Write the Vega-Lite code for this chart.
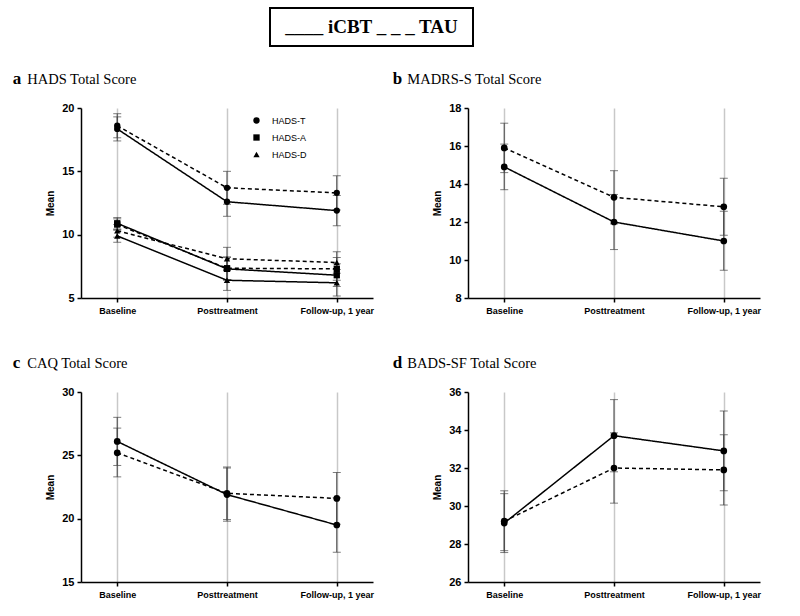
{
  "$schema": "https://vega.github.io/schema/vega-lite/v6.json",
  "background": "white",
  "padding": {"left": 12, "top": 7, "right": 5, "bottom": 5},
  "config": {
    "view": {"stroke": null},
    "font": "Liberation Sans",
    "title": {"font": "Liberation Serif", "fontSize": 17, "fontWeight": "bold", "color": "black", "subtitleFont": "Liberation Serif", "subtitleFontSize": 14.5, "subtitleColor": "black", "subtitleFontWeight": "normal", "subtitlePadding": -15, "anchor": "start", "offset": 14, "dx": -33},
    "axis": {"domainColor": "black", "domainWidth": 1.5, "tickColor": "black", "tickWidth": 1.5, "tickSize": 4, "labelFont": "Liberation Sans", "labelFontWeight": "bold", "labelColor": "black", "titleFont": "Liberation Sans", "titleFontWeight": "bold", "titleColor": "black", "labelOverlap": false},
    "axisY": {"labelFontSize": 11, "labelPadding": 3, "titleFontSize": 10, "titlePadding": 6, "grid": false},
    "axisX": {"labelFontSize": 9, "labelPadding": 4, "grid": true, "gridColor": "#c8c8c8", "gridWidth": 1.5, "labelAngle": 0, "title": null},
    "legend": {"labelFont": "Liberation Sans", "labelFontSize": 9, "labelColor": "black", "padding": 0, "rowPadding": 4, "labelOffset": 11}
  },
  "datasets": {
    "hads": [
      {"time": "Baseline", "arm": "iCBT", "group": "HADS-T", "mean": 18.35, "lo": 17.4, "hi": 19.3},
      {"time": "Posttreatment", "arm": "iCBT", "group": "HADS-T", "mean": 12.6, "lo": 11.45, "hi": 13.75},
      {"time": "Follow-up, 1 year", "arm": "iCBT", "group": "HADS-T", "mean": 11.9, "lo": 10.7, "hi": 13.1},
      {"time": "Baseline", "arm": "TAU", "group": "HADS-T", "mean": 18.6, "lo": 17.65, "hi": 19.55},
      {"time": "Posttreatment", "arm": "TAU", "group": "HADS-T", "mean": 13.7, "lo": 12.4, "hi": 15.0},
      {"time": "Follow-up, 1 year", "arm": "TAU", "group": "HADS-T", "mean": 13.3, "lo": 11.95, "hi": 14.65},
      {"time": "Baseline", "arm": "iCBT", "group": "HADS-A", "mean": 10.9, "lo": 10.45, "hi": 11.35},
      {"time": "Posttreatment", "arm": "iCBT", "group": "HADS-A", "mean": 7.3, "lo": 6.4, "hi": 8.2},
      {"time": "Follow-up, 1 year", "arm": "iCBT", "group": "HADS-A", "mean": 6.8, "lo": 5.9, "hi": 7.7},
      {"time": "Baseline", "arm": "TAU", "group": "HADS-A", "mean": 10.8, "lo": 10.35, "hi": 11.25},
      {"time": "Posttreatment", "arm": "TAU", "group": "HADS-A", "mean": 7.35, "lo": 6.45, "hi": 8.25},
      {"time": "Follow-up, 1 year", "arm": "TAU", "group": "HADS-A", "mean": 7.3, "lo": 6.4, "hi": 8.2},
      {"time": "Baseline", "arm": "iCBT", "group": "HADS-D", "mean": 9.9, "lo": 9.4, "hi": 10.4},
      {"time": "Posttreatment", "arm": "iCBT", "group": "HADS-D", "mean": 6.4, "lo": 5.6, "hi": 7.2},
      {"time": "Follow-up, 1 year", "arm": "iCBT", "group": "HADS-D", "mean": 6.2, "lo": 5.15, "hi": 7.25},
      {"time": "Baseline", "arm": "TAU", "group": "HADS-D", "mean": 10.3, "lo": 9.8, "hi": 10.8},
      {"time": "Posttreatment", "arm": "TAU", "group": "HADS-D", "mean": 8.1, "lo": 7.2, "hi": 9.0},
      {"time": "Follow-up, 1 year", "arm": "TAU", "group": "HADS-D", "mean": 7.8, "lo": 6.95, "hi": 8.65}
    ],
    "madrs": [
      {"time": "Baseline", "arm": "iCBT", "mean": 14.9, "lo": 13.7, "hi": 16.1},
      {"time": "Posttreatment", "arm": "iCBT", "mean": 12.0, "lo": 10.55, "hi": 13.45},
      {"time": "Follow-up, 1 year", "arm": "iCBT", "mean": 11.0, "lo": 9.46, "hi": 12.56},
      {"time": "Baseline", "arm": "TAU", "mean": 15.9, "lo": 14.6, "hi": 17.2},
      {"time": "Posttreatment", "arm": "TAU", "mean": 13.3, "lo": 11.9, "hi": 14.7},
      {"time": "Follow-up, 1 year", "arm": "TAU", "mean": 12.8, "lo": 11.3, "hi": 14.3}
    ],
    "caq": [
      {"time": "Baseline", "arm": "iCBT", "mean": 26.1, "lo": 24.2, "hi": 28.0},
      {"time": "Posttreatment", "arm": "iCBT", "mean": 21.9, "lo": 19.8, "hi": 24.0},
      {"time": "Follow-up, 1 year", "arm": "iCBT", "mean": 19.5, "lo": 17.35, "hi": 21.65},
      {"time": "Baseline", "arm": "TAU", "mean": 25.2, "lo": 23.3, "hi": 27.15},
      {"time": "Posttreatment", "arm": "TAU", "mean": 22.0, "lo": 19.93, "hi": 24.08},
      {"time": "Follow-up, 1 year", "arm": "TAU", "mean": 21.6, "lo": 19.55, "hi": 23.65}
    ],
    "bads": [
      {"time": "Baseline", "arm": "iCBT", "mean": 29.1, "lo": 27.55, "hi": 30.65},
      {"time": "Posttreatment", "arm": "iCBT", "mean": 33.7, "lo": 31.8, "hi": 35.6},
      {"time": "Follow-up, 1 year", "arm": "iCBT", "mean": 32.9, "lo": 30.8, "hi": 35.0},
      {"time": "Baseline", "arm": "TAU", "mean": 29.2, "lo": 27.65, "hi": 30.8},
      {"time": "Posttreatment", "arm": "TAU", "mean": 32.0, "lo": 30.15, "hi": 33.85},
      {"time": "Follow-up, 1 year", "arm": "TAU", "mean": 31.9, "lo": 30.05, "hi": 33.75}
    ]
  },
  "spacing": 23,
  "vconcat": [
    {
      "spacing": 0,
      "hconcat": [
        {"width": 188, "height": 38, "data": {"values": [{"t": ""}]}, "mark": {"type": "text"}, "encoding": {"text": {"field": "t"}}},
        {"width": 203, "height": 38, "view": {"stroke": "black", "strokeWidth": 2}, "data": {"values": [{"label": "____ iCBT _ _ _ TAU"}]}, "mark": {"type": "text", "font": "Liberation Serif", "fontWeight": "bold", "fontSize": 19, "color": "black"}, "encoding": {"text": {"field": "label"}}}
      ]
    },
    {
      "spacing": 39,
      "vconcat": [
        {
          "spacing": 18,
          "hconcat": [
            {
              "width": 292, "height": 190,
              "title": {"text": "a", "subtitle": "\u200b\u00a0\u00a0\u00a0\u00a0HADS Total Score"},
              "data": {"name": "hads"},
              "encoding": {"x": {"field": "time", "type": "nominal", "sort": ["Baseline", "Posttreatment", "Follow-up, 1 year"], "scale": {"type": "point", "padding": 0.33}, "axis": {"title": null}}},
              "layer": [
                {"mark": {"type": "rule", "color": "#444", "strokeWidth": 1}, "encoding": {"y": {"field": "lo", "type": "quantitative", "title": "Mean", "scale": {"domain": [5, 20], "nice": false, "zero": false}, "axis": {"values": [5, 10, 15, 20]}}, "y2": {"field": "hi"}, "detail": {"field": "arm"}}},
                {"mark": {"type": "tick", "orient": "horizontal", "size": 8, "thickness": 1, "color": "#444"}, "encoding": {"y": {"field": "lo", "type": "quantitative", "title": "Mean", "scale": {"domain": [5, 20], "nice": false, "zero": false}, "axis": {"values": [5, 10, 15, 20]}}}},
                {"mark": {"type": "tick", "orient": "horizontal", "size": 8, "thickness": 1, "color": "#444"}, "encoding": {"y": {"field": "hi", "type": "quantitative", "title": "Mean", "scale": {"domain": [5, 20], "nice": false, "zero": false}, "axis": {"values": [5, 10, 15, 20]}}}},
                {"mark": {"type": "line", "color": "black", "strokeWidth": 1.5}, "encoding": {"y": {"field": "mean", "type": "quantitative", "title": "Mean", "scale": {"domain": [5, 20], "nice": false, "zero": false}, "axis": {"values": [5, 10, 15, 20]}}, "detail": {"field": "group"}, "strokeDash": {"field": "arm", "type": "nominal", "scale": {"domain": ["iCBT", "TAU"], "range": [[1, 0], [4, 3]]}, "legend": null}}},
                {"mark": {"type": "point", "filled": true, "color": "black", "size": 40, "opacity": 1}, "encoding": {"y": {"field": "mean", "type": "quantitative", "title": "Mean", "scale": {"domain": [5, 20], "nice": false, "zero": false}, "axis": {"values": [5, 10, 15, 20]}}, "shape": {"field": "group", "type": "nominal", "scale": {"domain": ["HADS-T", "HADS-A", "HADS-D"], "range": ["circle", "square", "triangle-up"]}, "legend": {"title": null, "orient": "none", "legendX": 171, "legendY": 108, "symbolSize": 40, "symbolFillColor": "black", "symbolStrokeColor": "black"}}}}
              ]
            },
            {
              "width": 292, "height": 190,
              "title": {"text": "b", "subtitle": "\u200b\u00a0\u00a0\u00a0\u00a0MADRS-S Total Score", "dx": -40},
              "data": {"name": "madrs"},
              "encoding": {"x": {"field": "time", "type": "nominal", "sort": ["Baseline", "Posttreatment", "Follow-up, 1 year"], "scale": {"type": "point", "padding": 0.33}, "axis": {"title": null}}},
              "layer": [
                {"mark": {"type": "rule", "color": "#444", "strokeWidth": 1}, "encoding": {"y": {"field": "lo", "type": "quantitative", "title": "Mean", "scale": {"domain": [8, 18], "nice": false, "zero": false}, "axis": {"values": [8, 10, 12, 14, 16, 18]}}, "y2": {"field": "hi"}, "detail": {"field": "arm"}}},
                {"mark": {"type": "tick", "orient": "horizontal", "size": 8, "thickness": 1, "color": "#444"}, "encoding": {"y": {"field": "lo", "type": "quantitative", "title": "Mean", "scale": {"domain": [8, 18], "nice": false, "zero": false}, "axis": {"values": [8, 10, 12, 14, 16, 18]}}}},
                {"mark": {"type": "tick", "orient": "horizontal", "size": 8, "thickness": 1, "color": "#444"}, "encoding": {"y": {"field": "hi", "type": "quantitative", "title": "Mean", "scale": {"domain": [8, 18], "nice": false, "zero": false}, "axis": {"values": [8, 10, 12, 14, 16, 18]}}}},
                {"mark": {"type": "line", "color": "black", "strokeWidth": 1.5}, "encoding": {"y": {"field": "mean", "type": "quantitative", "title": "Mean", "scale": {"domain": [8, 18], "nice": false, "zero": false}, "axis": {"values": [8, 10, 12, 14, 16, 18]}}, "strokeDash": {"field": "arm", "type": "nominal", "scale": {"domain": ["iCBT", "TAU"], "range": [[1, 0], [4, 3]]}, "legend": null}}},
                {"mark": {"type": "point", "filled": true, "color": "black", "size": 45, "opacity": 1}, "encoding": {"y": {"field": "mean", "type": "quantitative", "title": "Mean", "scale": {"domain": [8, 18], "nice": false, "zero": false}, "axis": {"values": [8, 10, 12, 14, 16, 18]}}}}
              ]
            }
          ]
        },
        {
          "spacing": 18,
          "hconcat": [
            {
              "width": 292, "height": 190,
              "title": {"text": "c", "subtitle": "\u200b\u00a0\u00a0\u00a0\u00a0CAQ Total Score"},
              "data": {"name": "caq"},
              "encoding": {"x": {"field": "time", "type": "nominal", "sort": ["Baseline", "Posttreatment", "Follow-up, 1 year"], "scale": {"type": "point", "padding": 0.33}, "axis": {"title": null}}},
              "layer": [
                {"mark": {"type": "rule", "color": "#444", "strokeWidth": 1}, "encoding": {"y": {"field": "lo", "type": "quantitative", "title": "Mean", "scale": {"domain": [15, 30], "nice": false, "zero": false}, "axis": {"values": [15, 20, 25, 30]}}, "y2": {"field": "hi"}, "detail": {"field": "arm"}}},
                {"mark": {"type": "tick", "orient": "horizontal", "size": 8, "thickness": 1, "color": "#444"}, "encoding": {"y": {"field": "lo", "type": "quantitative", "title": "Mean", "scale": {"domain": [15, 30], "nice": false, "zero": false}, "axis": {"values": [15, 20, 25, 30]}}}},
                {"mark": {"type": "tick", "orient": "horizontal", "size": 8, "thickness": 1, "color": "#444"}, "encoding": {"y": {"field": "hi", "type": "quantitative", "title": "Mean", "scale": {"domain": [15, 30], "nice": false, "zero": false}, "axis": {"values": [15, 20, 25, 30]}}}},
                {"mark": {"type": "line", "color": "black", "strokeWidth": 1.5}, "encoding": {"y": {"field": "mean", "type": "quantitative", "title": "Mean", "scale": {"domain": [15, 30], "nice": false, "zero": false}, "axis": {"values": [15, 20, 25, 30]}}, "strokeDash": {"field": "arm", "type": "nominal", "scale": {"domain": ["iCBT", "TAU"], "range": [[1, 0], [4, 3]]}, "legend": null}}},
                {"mark": {"type": "point", "filled": true, "color": "black", "size": 45, "opacity": 1}, "encoding": {"y": {"field": "mean", "type": "quantitative", "title": "Mean", "scale": {"domain": [15, 30], "nice": false, "zero": false}, "axis": {"values": [15, 20, 25, 30]}}}}
              ]
            },
            {
              "width": 292, "height": 190,
              "title": {"text": "d", "subtitle": "\u200b\u00a0\u00a0\u00a0\u00a0BADS-SF Total Score", "dx": -40},
              "data": {"name": "bads"},
              "encoding": {"x": {"field": "time", "type": "nominal", "sort": ["Baseline", "Posttreatment", "Follow-up, 1 year"], "scale": {"type": "point", "padding": 0.33}, "axis": {"title": null}}},
              "layer": [
                {"mark": {"type": "rule", "color": "#444", "strokeWidth": 1}, "encoding": {"y": {"field": "lo", "type": "quantitative", "title": "Mean", "scale": {"domain": [26, 36], "nice": false, "zero": false}, "axis": {"values": [26, 28, 30, 32, 34, 36]}}, "y2": {"field": "hi"}, "detail": {"field": "arm"}}},
                {"mark": {"type": "tick", "orient": "horizontal", "size": 8, "thickness": 1, "color": "#444"}, "encoding": {"y": {"field": "lo", "type": "quantitative", "title": "Mean", "scale": {"domain": [26, 36], "nice": false, "zero": false}, "axis": {"values": [26, 28, 30, 32, 34, 36]}}}},
                {"mark": {"type": "tick", "orient": "horizontal", "size": 8, "thickness": 1, "color": "#444"}, "encoding": {"y": {"field": "hi", "type": "quantitative", "title": "Mean", "scale": {"domain": [26, 36], "nice": false, "zero": false}, "axis": {"values": [26, 28, 30, 32, 34, 36]}}}},
                {"mark": {"type": "line", "color": "black", "strokeWidth": 1.5}, "encoding": {"y": {"field": "mean", "type": "quantitative", "title": "Mean", "scale": {"domain": [26, 36], "nice": false, "zero": false}, "axis": {"values": [26, 28, 30, 32, 34, 36]}}, "strokeDash": {"field": "arm", "type": "nominal", "scale": {"domain": ["iCBT", "TAU"], "range": [[1, 0], [4, 3]]}, "legend": null}}},
                {"mark": {"type": "point", "filled": true, "color": "black", "size": 45, "opacity": 1}, "encoding": {"y": {"field": "mean", "type": "quantitative", "title": "Mean", "scale": {"domain": [26, 36], "nice": false, "zero": false}, "axis": {"values": [26, 28, 30, 32, 34, 36]}}}}
              ]
            }
          ]
        }
      ]
    }
  ]
}
